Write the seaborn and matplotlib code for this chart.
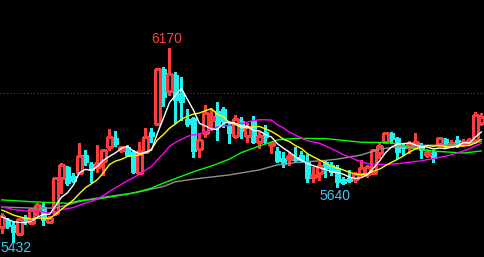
import numpy as np
import pandas as pd
import matplotlib
matplotlib.use("Agg")
import matplotlib.pyplot as plt
import seaborn as sns

# ---- data (prices) ----
opens = [5488, 5515, 5496, 5461, 5526, 5503, 5553, 5564, 5507, 5541,
         5674, 5716, 5682, 5693, 5762, 5727, 5716, 5739, 5792, 5826,
         5781, 5792, 5773, 5693, 5773, 5849, 5879, 6088, 6005, 6066,
         5997, 5898, 5902, 5784, 5845, 5895, 5929, 5936, 5872, 5834,
         5891, 5834, 5891, 5811, 5849, 5800, 5777, 5750, 5746, 5754,
         5762, 5739, 5678, 5693, 5735, 5724, 5712, 5670, 5674, 5670,
         5689, 5689, 5693, 5769, 5811, 5845, 5826, 5796, 5792, 5796,
         5792, 5762, 5773, 5803, 5822, 5800, 5819, 5803, 5807, 5819,
         5883]
highs = [5541, 5522, 5507, 5522, 5534, 5560, 5579, 5579, 5530, 5678,
         5731, 5720, 5693, 5807, 5781, 5735, 5800, 5784, 5860, 5853,
         5796, 5800, 5781, 5811, 5864, 5864, 6092, 6096, 6170, 6077,
         6058, 5936, 5906, 5845, 5952, 5936, 5963, 5944, 5887, 5914,
         5906, 5883, 5910, 5849, 5876, 5811, 5792, 5773, 5773, 5792,
         5777, 5765, 5716, 5735, 5743, 5735, 5724, 5678, 5705, 5697,
         5743, 5724, 5784, 5811, 5849, 5849, 5830, 5807, 5815, 5845,
         5807, 5784, 5781, 5830, 5826, 5819, 5834, 5822, 5826, 5925,
         5921]
lows = [5465, 5484, 5432, 5458, 5499, 5499, 5534, 5496, 5503, 5534,
        5617, 5648, 5659, 5689, 5724, 5659, 5697, 5686, 5781, 5796,
        5773, 5758, 5693, 5693, 5769, 5811, 5876, 5948, 5990, 5883,
        5895, 5872, 5754, 5754, 5830, 5857, 5819, 5868, 5807, 5826,
        5826, 5811, 5807, 5788, 5807, 5769, 5735, 5716, 5724, 5739,
        5735, 5659, 5659, 5667, 5678, 5686, 5640, 5651, 5659, 5659,
        5682, 5678, 5689, 5750, 5807, 5807, 5750, 5762, 5769, 5784,
        5750, 5754, 5735, 5796, 5792, 5796, 5792, 5796, 5800, 5807,
        5876]
closes = [5530, 5492, 5469, 5518, 5515, 5556, 5572, 5515, 5522, 5674,
          5724, 5655, 5663, 5758, 5735, 5705, 5731, 5781, 5830, 5803,
          5792, 5762, 5697, 5777, 5830, 5834, 6088, 5982, 6069, 5971,
          5963, 5879, 5777, 5819, 5921, 5906, 5872, 5891, 5845, 5898,
          5853, 5868, 5811, 5834, 5830, 5807, 5739, 5727, 5758, 5743,
          5743, 5674, 5686, 5720, 5712, 5697, 5659, 5655, 5663, 5689,
          5712, 5716, 5781, 5796, 5845, 5822, 5773, 5788, 5807, 5811,
          5781, 5773, 5750, 5826, 5800, 5807, 5800, 5811, 5819, 5914,
          5906]

# closes before the visible window (estimated from the moving-average levels)
prior_closes = [5572, 5580, 5568, 5578, 5583, 5570, 5575, 5581, 5566, 5577,
                5584, 5575, 5580, 5572, 5586,
                5534, 5520, 5530, 5518]

# longer averages
ma40_idx = [-1, 4, 10, 12, 15, 20, 22, 24, 26, 28, 31, 34, 37, 39, 42, 45, 48,
            53, 56, 59, 64, 65, 66, 67, 68, 69, 70, 72, 76, 79]
ma40_val = [5591, 5584, 5578, 5588, 5594, 5613, 5623, 5636, 5655, 5672, 5698,
            5720, 5746, 5771, 5796, 5819, 5825, 5824, 5817, 5810, 5809, 5801,
            5797, 5790, 5786, 5782, 5779, 5775, 5769, 5777]
ma60_idx = [-1, 4, 8, 13, 15, 21, 26, 28, 31, 37, 42, 45, 48, 53, 55, 59, 62,
            65, 69, 74, 79]
ma60_val = [5564, 5560, 5560, 5591, 5598, 5617, 5642, 5660, 5670, 5686, 5705,
            5724, 5733, 5741, 5746, 5762, 5784, 5793, 5798, 5800, 5812]

ref_level = 5998
high_label = "6170"
low_label = "5640"
low2_label = "5432"

# ---- figure ----
sns.set_theme(style="dark")
plt.rcParams['font.family'] = ['Liberation Sans', 'DejaVu Sans']

fig = plt.figure(figsize=(4.84, 2.57), dpi=100, facecolor='black')
ax = fig.add_axes([0, 0, 1, 1])
ax.set_facecolor('black')

n = len(opens)
x = np.arange(n) - 1
o = np.array(opens, float); h = np.array(highs, float)
l = np.array(lows, float); c = np.array(closes, float)

RED = '#ff3c3c'
CYAN = '#20f0f0'
up = c >= o
w = 0.8
lw = 0.75

# down candles: filled cyan
dn = ~up
ax.vlines(x[dn], l[dn], h[dn], color=CYAN, linewidth=lw, zorder=2, antialiased=False)
hgt = np.maximum(np.abs(o - c), 1.5)
ax.bar(x[dn], hgt[dn], bottom=np.minimum(o, c)[dn], width=w, color=CYAN,
       edgecolor=CYAN, linewidth=0.5, zorder=3, antialiased=False)
# up candles: hollow red
top = np.maximum(o, c); bot = np.minimum(o, c)
ax.vlines(x[up], top[up], h[up], color=RED, linewidth=lw, zorder=2, antialiased=False)
ax.vlines(x[up], l[up], bot[up], color=RED, linewidth=lw, zorder=2, antialiased=False)
ax.bar(x[up], hgt[up], bottom=bot[up], width=w, facecolor='black',
       edgecolor=RED, linewidth=lw, zorder=3, antialiased=False)

# moving averages
allc = pd.Series(prior_closes + closes, dtype=float)
npr = len(prior_closes)
ma5 = allc.rolling(5, min_periods=1).mean().values[npr:]
ma10 = allc.rolling(10, min_periods=1).mean().values[npr:]
ma20 = allc.rolling(20, min_periods=1).mean().values[npr:]

sns.lineplot(x=ma60_idx, y=ma60_val, color='#909090', linewidth=1.0, ax=ax, zorder=4)
sns.lineplot(x=ma40_idx, y=ma40_val, color='#00ff00', linewidth=1.0, ax=ax, zorder=4)
sns.lineplot(x=x, y=ma20, color='#ff00ff', linewidth=1.0, ax=ax, zorder=5)
sns.lineplot(x=x, y=ma10, color='#ffff00', linewidth=1.0, ax=ax, zorder=6)
sns.lineplot(x=x, y=ma5, color='#ffffff', linewidth=1.0, ax=ax, zorder=7)

ax.axhline(ref_level, color='#b02020', linestyle=(0, (1, 2)), linewidth=0.8, zorder=1)

# labels
ax.text(27 - 0.4, 6170 + 6, high_label, color='#ff4040', fontsize=10,
        ha='center', va='bottom')
ax.text(55 - 0.4, 5640 - 9, low_label, color='#40c8f0', fontsize=10,
        ha='center', va='top')
ax.text(-1.2, 6350.6 - 3.8 * 255.5, low2_label, color='#40c8f0', fontsize=10,
        ha='left', va='bottom', zorder=8)

ax.set_xlim(-1.25, -1.25 + 484 / 6)
ax.set_ylim(6350.6 - 3.8 * 257, 6350.6)
ax.set_xticks([]); ax.set_yticks([])
ax.set_xlabel(''); ax.set_ylabel('')
for s in ax.spines.values():
    s.set_visible(False)
ax.grid(False)

fig.savefig('out.png', dpi=100, facecolor='black')
